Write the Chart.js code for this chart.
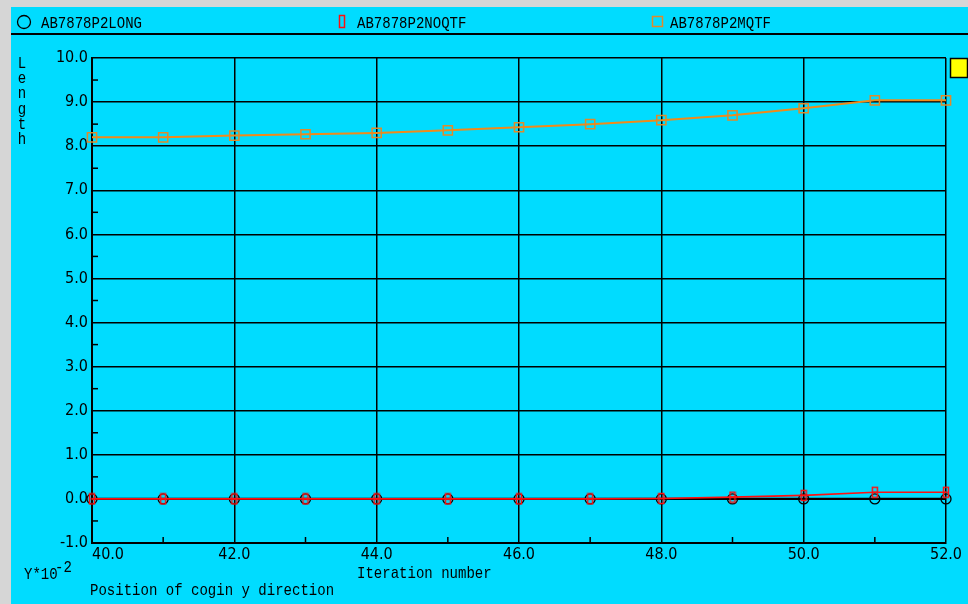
<!DOCTYPE html>
<html>
<head>
<meta charset="utf-8">
<title>Position of cogin y direction</title>
<script src="https://cdn.jsdelivr.net/npm/chart.js@4.4.1/dist/chart.umd.min.js"></script>
<style>
  html, body { margin: 0; padding: 0; background: #d6d6d6; }
  #wrap { position: relative; width: 968px; height: 604px; }
</style>
</head>
<body>
<div id="wrap"><canvas id="c" width="968" height="604"></canvas></div>
<script>
// Iteration numbers along the x axis
const iterations = [40, 41, 42, 43, 44, 45, 46, 47, 48, 49, 50, 51, 52];

// Length values (Y * 10^-2) for each run
const longValues  = [0, 0, 0, 0, 0, 0, 0, 0, 0, 0, 0, 0, 0];
const noqtfValues = [0, 0, 0, 0, 0, 0, 0, 0, 0.01, 0.04, 0.08, 0.15, 0.15];
const mqtfValues  = [8.20, 8.20, 8.24, 8.27, 8.30, 8.36, 8.43, 8.50, 8.59, 8.70, 8.86, 9.04, 9.04];

const seriesLabels = ['AB7878P2LONG', 'AB7878P2NOQTF', 'AB7878P2MQTF'];

// Axis ranges and tick steps
const xRange = { min: 40, max: 52, step: 2, minorStep: 1 };
const yRange = { min: -1, max: 10, step: 1, minorStep: 0.5 };

const CYAN = '#00dcff';
const TEXT_FONT = '17px "Liberation Mono", "DejaVu Sans Mono", monospace';
const TEXT_SX = 0.825;

function toPoints(values) {
  return values.map((v, i) => ({ x: iterations[i], y: v }));
}

// Narrow rectangle marker with a middle bar
function makeNarrowMarker(color, withBar) {
  const c = document.createElement('canvas');
  c.width = 8; c.height = 13;
  const g = c.getContext('2d');
  g.strokeStyle = color;
  g.lineWidth = 1.5;
  g.strokeRect(1.5, 1.5, 5, 10);
  if (withBar) {
    g.beginPath(); g.moveTo(1.5, 6.5); g.lineTo(6.5, 6.5); g.stroke();
  }
  return c;
}
const redMarker = makeNarrowMarker('#ff1010', true);

function drawText(ctx, str, x, y) {
  ctx.save();
  ctx.font = TEXT_FONT;
  ctx.fillStyle = '#000';
  ctx.textBaseline = 'alphabetic';
  ctx.translate(x, y);
  ctx.scale(TEXT_SX, 1);
  ctx.fillText(str, 0, 0);
  ctx.restore();
}

// Panel background, legend strip, minor ticks and captions
const framePlugin = {
  id: 'frame',
  beforeDraw(chart) {
    const ctx = chart.ctx;
    ctx.save();
    ctx.fillStyle = '#d6d6d6';
    ctx.fillRect(0, 0, chart.width, chart.height);
    ctx.fillStyle = CYAN;
    ctx.fillRect(11, 7, chart.width - 11, chart.height - 7);
    ctx.strokeStyle = '#000';
    ctx.lineWidth = 2;
    ctx.beginPath(); ctx.moveTo(11, 34); ctx.lineTo(chart.width, 34); ctx.stroke();
    ctx.restore();
  },
  afterDraw(chart) {
    const ctx = chart.ctx;
    const xs = chart.scales.x, ys = chart.scales.y;
    const area = chart.chartArea;
    ctx.save();
    ctx.strokeStyle = '#000';
    ctx.lineWidth = 1.5;
    // minor ticks on the y axis (pointing into the plot)
    for (let v = yRange.min + yRange.minorStep; v < yRange.max; v += yRange.step) {
      const py = ys.getPixelForValue(v);
      ctx.beginPath(); ctx.moveTo(area.left, py); ctx.lineTo(area.left + 6, py); ctx.stroke();
    }
    // minor ticks on the x axis
    for (let v = xRange.min + xRange.minorStep; v < xRange.max; v += xRange.step) {
      const px = xs.getPixelForValue(v);
      ctx.beginPath(); ctx.moveTo(px, area.bottom); ctx.lineTo(px, area.bottom - 6); ctx.stroke();
    }
    ctx.restore();

    // legend strip
    const ds = chart.data.datasets;
    const legendX = [17, 338, 651];
    ctx.save();
    ctx.strokeStyle = ds[0].borderColor; ctx.lineWidth = 1.3;
    ctx.beginPath(); ctx.arc(legendX[0] + 7, 22, 6.5, 0, Math.PI * 2); ctx.stroke();
    ctx.strokeStyle = ds[1].borderColor; ctx.lineWidth = 1.5;
    ctx.strokeRect(legendX[1] + 1.5, 15.5, 5, 12);
    ctx.strokeStyle = ds[2].pointBorderColor; ctx.lineWidth = 1.5;
    ctx.strokeRect(legendX[2] + 1.5, 16.5, 10, 10);
    ctx.restore();
    drawText(ctx, ds[0].label, 41, 28);
    drawText(ctx, ds[1].label, 357, 28);
    drawText(ctx, ds[2].label, 670, 28);

    // yellow indicator box
    ctx.save();
    ctx.fillStyle = '#ffff00';
    ctx.fillRect(area.right + 4, area.top, 17, 19);
    ctx.strokeStyle = '#000'; ctx.lineWidth = 1.5;
    ctx.strokeRect(area.right + 4.5, area.top + 0.5, 17, 19);
    ctx.restore();

    // y axis title, letters stacked
    const title = 'Length';
    for (let i = 0; i < title.length; i++) {
      ctx.save();
      ctx.font = TEXT_FONT;
      ctx.textAlign = 'center';
      ctx.fillStyle = '#000';
      ctx.translate(22, 68 + i * 15.2);
      ctx.scale(TEXT_SX, 1);
      ctx.fillText(title[i], 0, 0);
      ctx.restore();
    }

    // bottom captions
    drawText(ctx, 'Y*10', 24, 579);
    drawText(ctx, '-2', 55, 572);
    drawText(ctx, 'Iteration number', 357, 578);
    drawText(ctx, 'Position of cogin y direction', 90, 595);
  }
};

const tickFont = { family: '"DejaVu Sans Condensed", "DejaVu Sans", sans-serif', size: 16 };

new Chart(document.getElementById('c'), {
  type: 'line',
  data: {
    datasets: [
      {
        label: seriesLabels[0],
        data: toPoints(longValues),
        borderColor: '#000000',
        borderWidth: 2.2,
        pointStyle: 'circle',
        pointRadius: 5,
        pointBorderWidth: 1.3,
        pointBorderColor: '#000000',
        pointBackgroundColor: 'rgba(0,0,0,0)',
        clip: false,
        order: 3
      },
      {
        label: seriesLabels[1],
        data: toPoints(noqtfValues),
        borderColor: '#ff1010',
        borderWidth: 1.6,
        pointStyle: redMarker,
        pointRadius: 6,
        clip: false,
        order: 2
      },
      {
        label: seriesLabels[2],
        data: toPoints(mqtfValues),
        borderColor: '#f08a1a',
        borderWidth: 2,
        pointStyle: 'rect',
        pointRadius: 6.5,
        pointBorderWidth: 1.5,
        pointBorderColor: '#e08a2a',
        pointBackgroundColor: 'rgba(0,0,0,0)',
        clip: false,
        order: 1
      }
    ]
  },
  options: {
    responsive: false,
    animation: false,
    devicePixelRatio: 1,
    layout: { padding: { left: 0, right: 22, top: 58, bottom: 0 } },
    plugins: {
      legend: { display: false },
      tooltip: { enabled: false }
    },
    elements: { line: { tension: 0 } },
    scales: {
      x: {
        type: 'linear',
        min: xRange.min,
        max: xRange.max,
        afterFit(scale) { scale.height = 61; },
        ticks: {
          stepSize: xRange.step,
          color: '#000',
          font: tickFont,
          padding: 2,
          maxRotation: 0,
          callback: (v) => (v === xRange.min ? '       ' : '') + Number(v).toFixed(1)
        },
        grid: { color: '#000', lineWidth: 1.5, drawTicks: false },
        border: { color: '#000', width: 2 }
      },
      y: {
        type: 'linear',
        min: yRange.min,
        max: yRange.max,
        afterFit(scale) { scale.width = 92; },
        ticks: {
          stepSize: yRange.step,
          color: '#000',
          font: tickFont,
          padding: 4,
          callback: (v) => Number(v).toFixed(1)
        },
        grid: { color: '#000', lineWidth: 1.5, drawTicks: false },
        border: { color: '#000', width: 2 }
      }
    }
  },
  plugins: [framePlugin]
});
</script>
</body>
</html>
